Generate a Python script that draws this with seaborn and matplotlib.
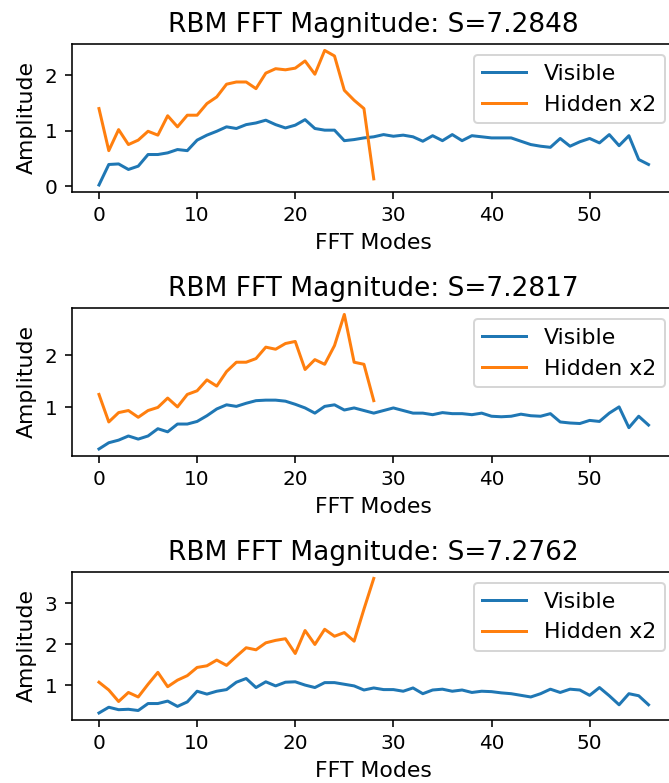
import numpy as np
import pandas as pd
import matplotlib
matplotlib.use("Agg")
import matplotlib.pyplot as plt
import seaborn as sns

# Spectral amplitudes of visible units (57 modes) and hidden units x2 (29 modes)
visible_modes = list(range(57))
hidden_modes = list(range(29))

titles = ["RBM FFT Magnitude: S=7.2848",
          "RBM FFT Magnitude: S=7.2817",
          "RBM FFT Magnitude: S=7.2762"]

visible_1 = [0.02, 0.39, 0.40, 0.30, 0.36, 0.57, 0.57, 0.60, 0.66, 0.64,
             0.83, 0.92, 0.99, 1.07, 1.04, 1.11, 1.14, 1.19, 1.11, 1.05,
             1.10, 1.20, 1.04, 1.01, 1.01, 0.82, 0.84, 0.87, 0.89, 0.93,
             0.90, 0.92, 0.89, 0.81, 0.91, 0.82, 0.93, 0.82, 0.91, 0.89,
             0.87, 0.87, 0.87, 0.81, 0.75, 0.72, 0.70, 0.86, 0.72, 0.80,
             0.86, 0.78, 0.93, 0.73, 0.91, 0.48, 0.39]
hidden_1 = [1.40, 0.64, 1.02, 0.75, 0.83, 0.99, 0.92, 1.27, 1.07, 1.28,
            1.28, 1.49, 1.61, 1.84, 1.88, 1.88, 1.76, 2.04, 2.12, 2.10,
            2.13, 2.26, 2.02, 2.45, 2.35, 1.73, 1.55, 1.40, 0.13]

visible_2 = [0.20, 0.32, 0.37, 0.45, 0.39, 0.45, 0.59, 0.53, 0.68, 0.68,
             0.73, 0.84, 0.97, 1.05, 1.02, 1.08, 1.13, 1.14, 1.14, 1.12,
             1.06, 0.99, 0.89, 1.02, 1.05, 0.95, 0.99, 0.94, 0.89, 0.94,
             0.99, 0.94, 0.89, 0.89, 0.86, 0.90, 0.88, 0.88, 0.86, 0.89,
             0.83, 0.82, 0.83, 0.87, 0.84, 0.83, 0.88, 0.72, 0.70, 0.69,
             0.75, 0.73, 0.89, 1.01, 0.61, 0.83, 0.66]
hidden_2 = [1.25, 0.72, 0.90, 0.94, 0.81, 0.94, 1.00, 1.18, 1.01, 1.25,
            1.32, 1.53, 1.41, 1.69, 1.87, 1.87, 1.94, 2.16, 2.12, 2.23,
            2.27, 1.73, 1.92, 1.83, 2.19, 2.79, 1.87, 1.83, 1.13]

visible_3 = [0.32, 0.46, 0.40, 0.41, 0.38, 0.55, 0.55, 0.61, 0.48, 0.59,
             0.85, 0.78, 0.85, 0.89, 1.07, 1.16, 0.94, 1.08, 0.98, 1.07,
             1.08, 1.00, 0.94, 1.06, 1.06, 1.02, 0.98, 0.88, 0.93, 0.89,
             0.89, 0.85, 0.93, 0.79, 0.88, 0.90, 0.85, 0.88, 0.82, 0.85,
             0.84, 0.81, 0.79, 0.75, 0.71, 0.79, 0.90, 0.82, 0.90, 0.88,
             0.75, 0.94, 0.74, 0.52, 0.79, 0.74, 0.52]
hidden_3 = [1.07, 0.88, 0.60, 0.82, 0.71, 1.02, 1.31, 0.96, 1.12, 1.23,
            1.43, 1.47, 1.61, 1.48, 1.70, 1.91, 1.86, 2.03, 2.09, 2.13,
            1.77, 2.33, 1.99, 2.36, 2.19, 2.28, 2.07, 2.85, 3.60]

visible_sets = [visible_1, visible_2, visible_3]
hidden_sets = [hidden_1, hidden_2, hidden_3]

plt.rcParams["font.size"] = 11
plt.rcParams["xtick.labelsize"] = 10
plt.rcParams["ytick.labelsize"] = 10

DPI = 144
fig = plt.figure(figsize=(669 / DPI, 783 / DPI), dpi=DPI)

left = 71.5 / 669
width = (676 - 71.5) / 669
height = 148 / 783
bottoms_px = [191.7, 455.7, 719.7]

for k in range(3):
    ax = fig.add_axes([left, (783 - bottoms_px[k]) / 783, width, height])
    df_v = pd.DataFrame({"mode": visible_modes, "amp": visible_sets[k]})
    df_h = pd.DataFrame({"mode": hidden_modes, "amp": hidden_sets[k]})
    sns.lineplot(data=df_v, x="mode", y="amp", ax=ax, color="#1f77b4",
                 label="Visible")
    sns.lineplot(data=df_h, x="mode", y="amp", ax=ax, color="#ff7f0e",
                 label="Hidden x2")
    ax.set_title(titles[k])
    ax.set_xlabel("FFT Modes")
    ax.set_ylabel("Amplitude")
    ax.legend(loc="upper right")

fig.savefig("out.png", dpi=DPI)
